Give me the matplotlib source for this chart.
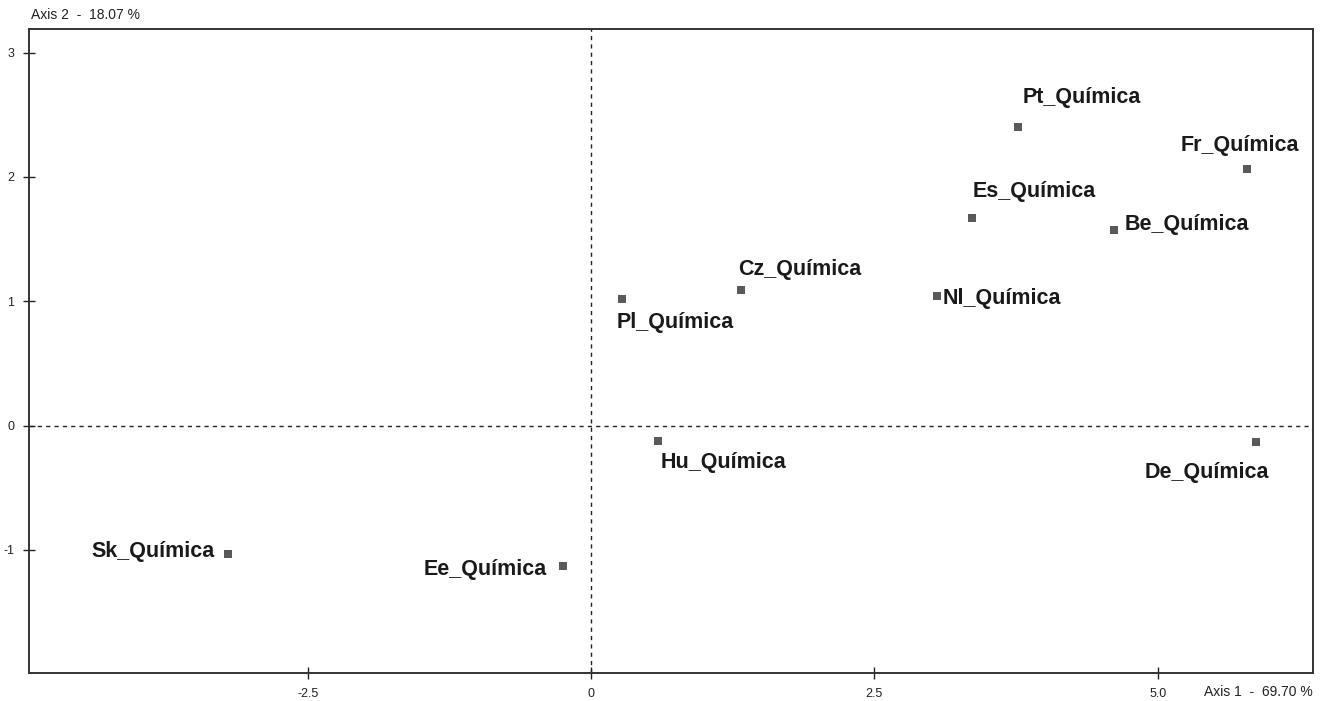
import matplotlib
matplotlib.use("Agg")
import matplotlib.pyplot as plt

labels = ["Pt_Química", "Fr_Química", "Es_Química", "Be_Química", "Cz_Química",
          "Nl_Química", "Pl_Química", "Hu_Química", "De_Química", "Sk_Química", "Ee_Química"]
axis1 = [3.77, 5.79, 3.36, 4.61, 1.32, 3.05, 0.27, 0.59, 5.87, -3.20, -0.25]
axis2 = [2.40, 2.06, 1.67, 1.57, 1.09, 1.04, 1.02, -0.12, -0.13, -1.03, -1.13]
xticks = [-2.5, 0, 2.5, 5.0]
xticklabels = ["-2.5", "0", "2.5", "5.0"]
yticks = [-1, 0, 1, 2, 3]
yticklabels = ["-1", "0", "1", "2", "3"]

# label offsets in pixels (dx, dy, ha)
label_offsets = {
    "Pt_Química": (4, 30, "left"),
    "Fr_Química": (-67, 24, "left"),
    "Es_Química": (1, 26, "left"),
    "Be_Química": (11, 6, "left"),
    "Cz_Química": (-3, 21, "left"),
    "Nl_Química": (6, -2, "left"),
    "Pl_Química": (-5, -24, "left"),
    "Hu_Química": (3, -22, "left"),
    "De_Química": (-112, -31, "left"),
    "Sk_Química": (-14, 2, "right"),
    "Ee_Química": (-16, -3, "right"),
}

plt.rcParams['font.family'] = ['Liberation Sans', 'DejaVu Sans']

fig = plt.figure(figsize=(13.28, 7.01), dpi=100)
ax = fig.add_axes([29/1328, 1 - 673/701, (1313 - 29)/1328, (673 - 29)/701])
ax.set_xlim(-4.96, 6.37)
ax.set_ylim(-1.99, 3.19)

ax.axhline(0, color="#222222", lw=1.0, ls=(0, (3, 3)), zorder=1)
ax.axvline(0, color="#222222", lw=1.0, ls=(0, (3, 3)), zorder=1)

ax.scatter(axis1, axis2, marker="s", s=26, color="#5a5a5a", zorder=3, linewidths=0)

for lab, x, y in zip(labels, axis1, axis2):
    dx, dy, ha = label_offsets[lab]
    ax.annotate(lab, (x, y), xytext=(dx, dy), textcoords="offset pixels",
                ha=ha, va="center", fontsize=15.5, fontweight="bold", color="#1a1a1a")

ax.set_xticks(xticks)
ax.set_xticklabels(xticklabels)
ax.set_yticks(yticks)
ax.set_yticklabels(yticklabels)
ax.tick_params(direction="inout", length=9, width=1, labelsize=9, colors="#222222", pad=6)
for s in ax.spines.values():
    s.set_color("#333333")
    s.set_linewidth(1.4)

fig.text(31/1328, 1 - 15/701, "Axis 2  -  18.07 %", fontsize=10, ha="left", va="center", color="#222222")
fig.text(1313/1328, 1 - 692/701, "Axis 1  -  69.70 %", fontsize=10, ha="right", va="center", color="#222222")

fig.savefig("out.png", dpi=100)
